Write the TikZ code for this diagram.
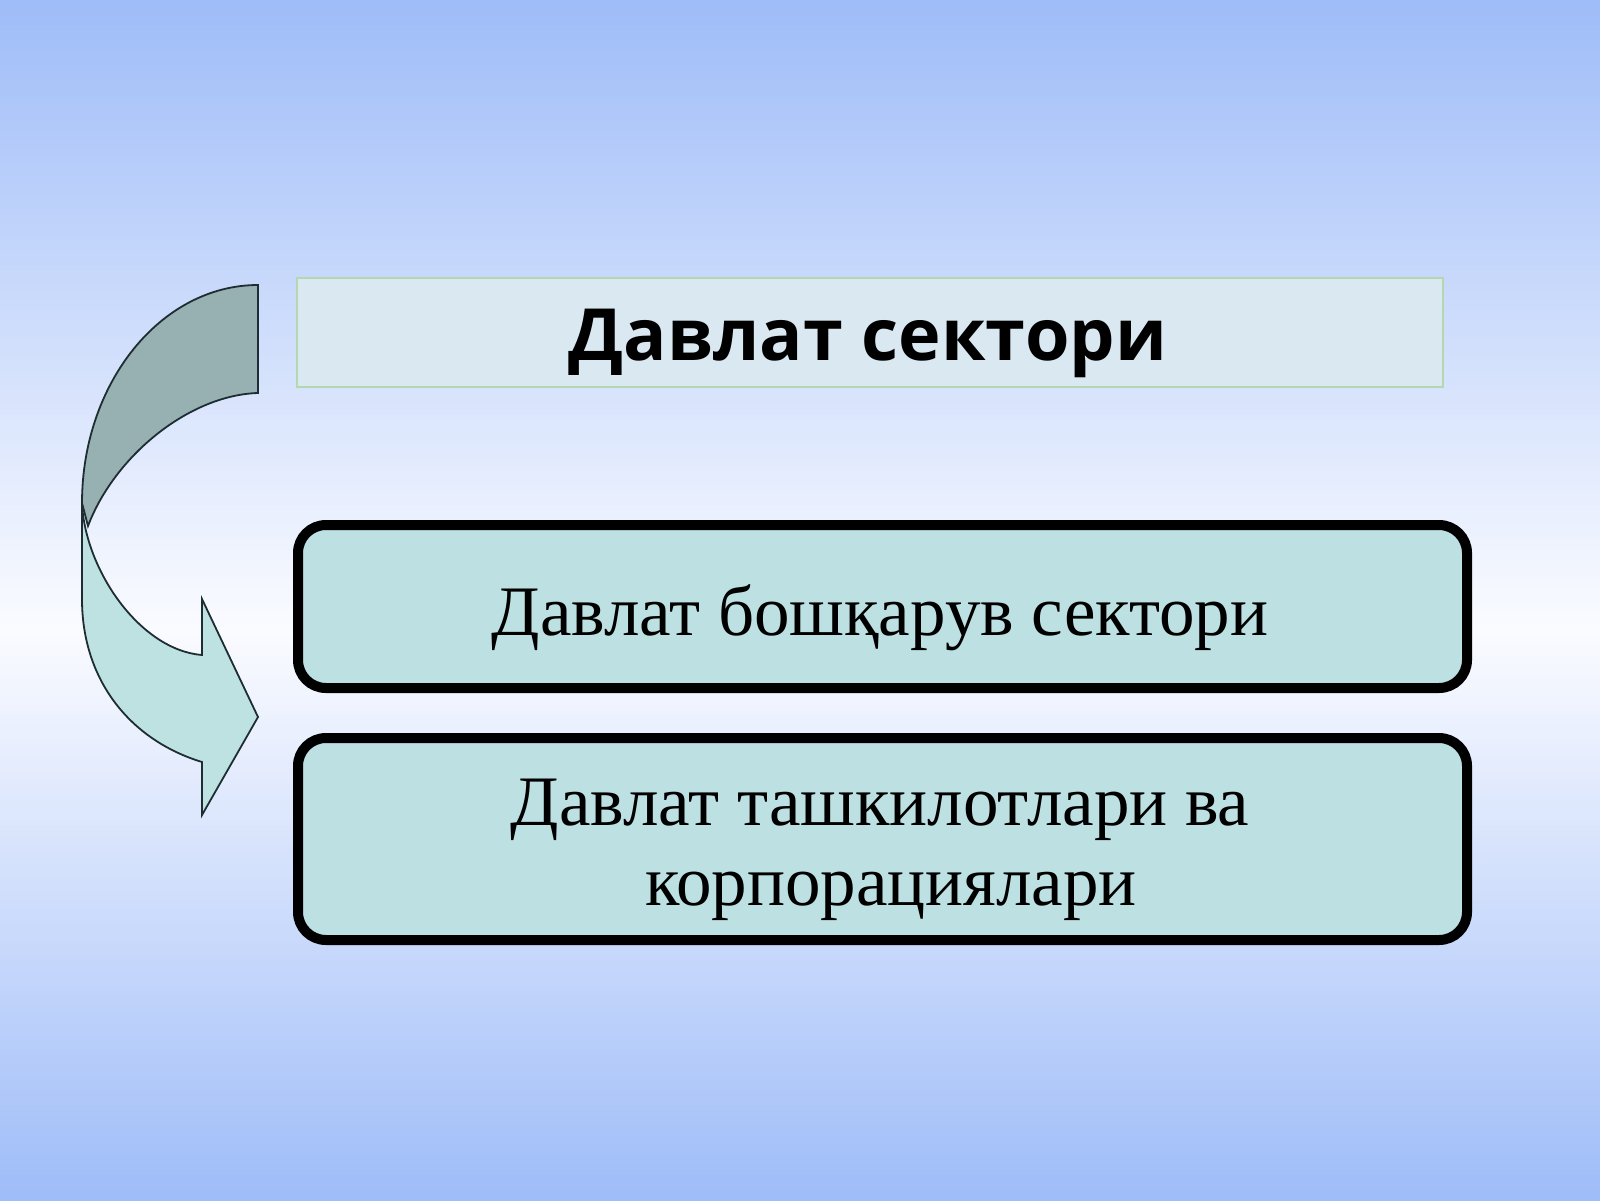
\documentclass[tikz,border=0pt]{standalone}
\usepackage{fontspec}
\setmainfont{Liberation Serif}
\newfontfamily\titlefont{Open Sans}
\definecolor{bgtop}{RGB}{158,188,248}
\definecolor{bgmid}{RGB}{250,251,255}
\definecolor{titlefill}{RGB}{218,232,242}
\definecolor{titleline}{RGB}{180,215,175}
\definecolor{boxfill}{RGB}{189,224,226}
\definecolor{banddark}{RGB}{151,176,177}
\definecolor{bandlight}{RGB}{190,225,226}
\definecolor{bandline}{RGB}{30,45,50}
\tikzset{
  titlebox/.style={draw=titleline, line width=0.6pt, fill=titlefill},
  sectorbox/.style={draw=black, line width=5pt, fill=boxfill, rounded corners=14pt},
  boxtext/.style={font=\fontsize{35.5}{40}\selectfont, align=center, inner sep=0pt},
  ribbon/.style={draw=bandline, line width=0.9pt, line join=miter},
}
\begin{document}
\begin{tikzpicture}[x=0.5pt,y=-0.5pt]
\useasboundingbox (0,0) rectangle (1600,1200);
% background gradient (blue - near white - blue)
\foreach \i in {0,...,239} {
  \pgfmathsetmacro\yy{\i*5+2.5}
  \pgfmathtruncatemacro\p{\yy<630 ? min(100,(630-\yy)/6.3) : min(100,(\yy-630)/5.7)}
  \fill[bgtop!\p!bgmid] (0,\i*5) rectangle (1600,\i*5+5.6);
}

% title box
\draw[titlebox] (297,278) rectangle (1443,387);
\node[font=\titlefont\bfseries\fontsize{36}{40}\selectfont, anchor=base, inner sep=0pt] (title) at (868,360) {Давлат сектори};

% boxes
\draw[sectorbox] (298,525) rectangle (1467,688);
\node[boxtext, anchor=base] (sec1) at (880,635) {Давлат бошқарув сектори};
\draw[sectorbox] (298,738) rectangle (1467,940);
\node[boxtext, anchor=base] (sec2) at (880,905) {Давлат ташкилотлари ва\\\hspace*{11pt}корпорациялари};

% curved arrow: lower light band
\coordinate (C) at (82,503);
\coordinate (E) at (82,599);
\coordinate (F) at (202,762);
\coordinate (G) at (202,815);
\coordinate (T) at (258,717);
\coordinate (H) at (202,599);
\coordinate (I) at (202,655);
\coordinate (A) at (258,285);
\coordinate (B) at (258,393);
\coordinate (D) at (88,526);
\draw[ribbon, fill=bandlight] (C) -- (E) .. controls (82,680) and (130,740) .. (F) -- (G) -- (T) -- (H) -- (I) .. controls (140,650) and (85,570) .. (C) -- cycle;
% upper dark band
\draw[ribbon, fill=banddark] (A) .. controls (161,285) and (82,383) .. (C) -- (D) .. controls (115,455) and (190,395) .. (B) -- cycle;
\end{tikzpicture}
\end{document}
